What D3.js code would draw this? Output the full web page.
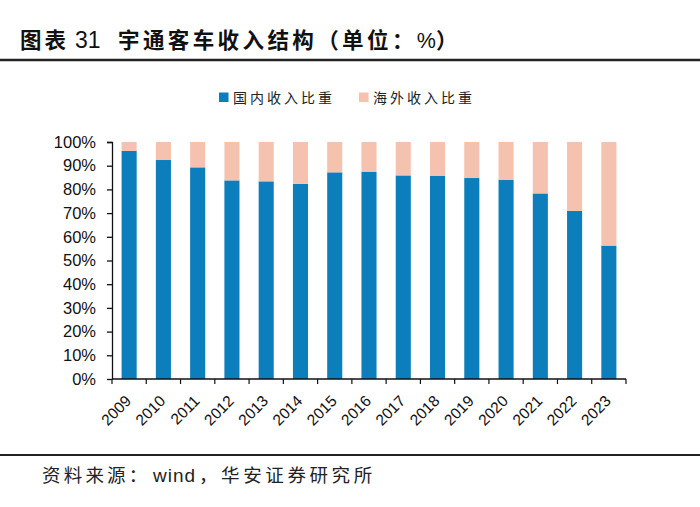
<!DOCTYPE html>
<html><head><meta charset="utf-8">
<script src="https://cdn.jsdelivr.net/npm/d3@7"></script>
<style>
body{margin:0;background:#fff;}
svg{display:block;}
</style></head>
<body>
<svg id="chart" width="700" height="507"></svg>
<script>
const years = ["2009","2010","2011","2012","2013","2014","2015","2016","2017","2018","2019","2020","2021","2022","2023"];
const domestic = [96.2,92.4,89.3,83.8,83.4,82.3,87.2,87.5,85.9,85.8,84.8,84.1,78.3,70.9,56.3];
const overseas = domestic.map(d => +(100 - d).toFixed(1));
const yTicks = [0,10,20,30,40,50,60,70,80,90,100];
const seriesNames = ["国内收入比重","海外收入比重"];
const colors = ["#0B7EBB","#F5C2B0"];

const svg = d3.select("#chart");
const cjk = "'Noto Sans CJK SC','Noto Sans',sans-serif";
const latin = "Arial,'Liberation Sans',sans-serif";

// Title
const tg = svg.append("g").attr("fill","#111");
tg.append("text").attr("x",20).attr("y",48).attr("font-family",cjk).attr("font-weight","bold")
  .attr("font-size",21.5).attr("letter-spacing",3).text("图表");
tg.append("text").attr("x",75).attr("y",48).attr("font-family",latin)
  .attr("font-size",23).text("31");
const t2 = tg.append("text").attr("x",118).attr("y",48).attr("font-family",cjk).attr("font-weight","bold")
  .attr("font-size",21.5).attr("letter-spacing",3.4);
t2.append("tspan").text("宇通客车收入结构（单位：");
t2.append("tspan").attr("font-family",latin).attr("font-weight","normal").attr("letter-spacing",0).text("%");
t2.append("tspan").text("）");
svg.append("line").attr("x1",0).attr("x2",700).attr("y1",60).attr("y2",60).attr("stroke","#222").attr("stroke-width",2.5);

// Legend
const legend = svg.append("g");
const legX = [219, 359];
seriesNames.forEach((n,i)=>{
  legend.append("rect").attr("x",legX[i]).attr("y",92.5).attr("width",9.5).attr("height",9.5).attr("fill",colors[i]);
  legend.append("text").attr("x",legX[i]+14).attr("y",102.5).attr("font-family",cjk).attr("font-size",14)
    .attr("letter-spacing",3).attr("fill","#222").text(n);
});

// Scales
const x = d3.scaleBand().domain(years).range([112, 626]).paddingInner(0.56).paddingOuter(0.28);
const y = d3.scaleLinear().domain([0,100]).range([379,142]);

const stackData = years.map((yr,i)=>({year:yr, d:domestic[i], o:overseas[i]}));
const stack = d3.stack().keys(["d","o"])(stackData);

svg.append("g").selectAll("g").data(stack).join("g")
  .attr("fill",(s,i)=>colors[i])
  .selectAll("rect").data(s=>s).join("rect")
  .attr("x",d=>x(d.data.year)).attr("width",x.bandwidth())
  .attr("y",d=>y(d[1])).attr("height",d=>y(d[0])-y(d[1]));

// Y axis
const yAxis = svg.append("g").attr("transform","translate(112,0)")
  .call(d3.axisLeft(y).tickValues(yTicks).tickFormat(d=>d+"%").tickSize(5).tickPadding(11));
yAxis.selectAll("text").attr("font-family",latin).attr("font-size",16.5).attr("fill","#111");
yAxis.selectAll("line,path").attr("stroke","#111").attr("stroke-width",1.3);
yAxis.select("path").attr("d","M-5,142.5H0.5V379.5");

// X axis
const xAxisG = svg.append("g").attr("transform","translate(0,379)");
xAxisG.append("line").attr("x1",112).attr("x2",626).attr("stroke","#111").attr("stroke-width",1.3);
const bounds = d3.range(years.length+1).map(i=>112 + i*(626-112)/years.length);
xAxisG.selectAll("line.tk").data(bounds).join("line").attr("class","tk")
  .attr("x1",d=>d).attr("x2",d=>d).attr("y1",0).attr("y2",5).attr("stroke","#111").attr("stroke-width",1.2);
xAxisG.selectAll("text").data(years).join("text")
  .attr("transform",d=>`translate(${x(d)+x.bandwidth()/2+3},${23}) rotate(-45)`)
  .attr("text-anchor","end").attr("font-family",latin).attr("font-size",15.5).attr("fill","#111")
  .text(d=>d);

// Source
svg.append("line").attr("x1",0).attr("x2",700).attr("y1",455).attr("y2",455).attr("stroke","#222").attr("stroke-width",2);
const src = svg.append("text").attr("y",482).attr("font-family",cjk).attr("font-size",18.5).attr("fill","#222");
src.append("tspan").attr("x",42).attr("letter-spacing",3.2).text("资料来源：");
src.append("tspan").attr("x",153).attr("font-family",latin).attr("font-size",19).attr("letter-spacing",1).text("wind");
src.append("tspan").attr("x",199).attr("letter-spacing",3.6).text("，华安证券研究所");
</script>
</body></html>
